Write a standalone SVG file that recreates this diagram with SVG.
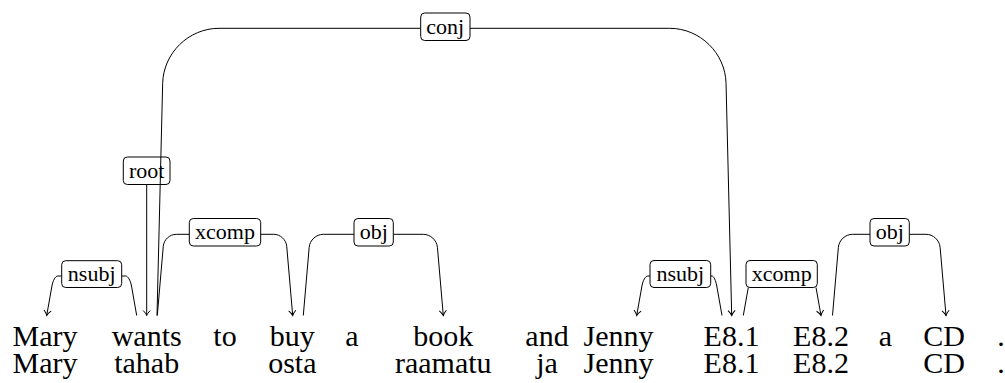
<svg xmlns="http://www.w3.org/2000/svg" width="1005" height="383" viewBox="0 0 1005 383">
  <style>
    .w { font-size: 30px; text-anchor: middle; fill: #000; }
    .lab { font-size: 22px; text-anchor: middle; fill: #000; }
    .box { fill: #fff; stroke: #000; stroke-width: 1; }
    .edge { fill: none; stroke: #000; stroke-width: 1; }
    .dep { marker-end: url(#to); }
  </style>
  <defs>
    <!-- open curved arrow tip, pointing along the path -->
    <marker id="to" viewBox="-8 -6 12 12" markerWidth="12" markerHeight="12" refX="0" refY="0" orient="auto" markerUnits="userSpaceOnUse" overflow="visible">
      <path d="M -5,-3.6 C -3,-1.5 -1,-0.4 0,0 C -1,0.4 -3,1.5 -5,3.6" fill="none" stroke="#000" stroke-width="1"/>
    </marker>
  </defs>

  <!-- sentence: English row above, Estonian row below -->
  <g id="words" font-family="Liberation Serif, DejaVu Serif, serif">
    <g id="w-mary"><text class="w" x="45" y="346">Mary</text><text class="w" x="45" y="373">Mary</text></g>
    <g id="w-wants"><text class="w" x="146.7" y="346">wants</text><text class="w" x="146.7" y="373">tahab</text></g>
    <g id="w-to"><text class="w" x="225" y="346">to</text></g>
    <g id="w-buy"><text class="w" x="292.3" y="346">buy</text><text class="w" x="292.3" y="373">osta</text></g>
    <g id="w-a1"><text class="w" x="352" y="346">a</text></g>
    <g id="w-book"><text class="w" x="443.3" y="346">book</text><text class="w" x="443.3" y="373">raamatu</text></g>
    <g id="w-and"><text class="w" x="547" y="346">and</text><text class="w" x="547" y="373">ja</text></g>
    <g id="w-jenny"><text class="w" x="618.5" y="346">Jenny</text><text class="w" x="618.5" y="373">Jenny</text></g>
    <g id="w-e81"><text class="w" x="731.5" y="346">E8.1</text><text class="w" x="731.5" y="373">E8.1</text></g>
    <g id="w-e82"><text class="w" x="821" y="346">E8.2</text><text class="w" x="821" y="373">E8.2</text></g>
    <g id="w-a2"><text class="w" x="885.5" y="346">a</text></g>
    <g id="w-cd"><text class="w" x="944" y="346">CD</text><text class="w" x="944" y="373">CD</text></g>
    <g id="w-dot"><text class="w" x="1001" y="346">.</text><text class="w" x="1001" y="373">.</text></g>
  </g>

  <!-- dependency edges with their labels -->
  <g id="connectors" font-family="Liberation Serif, DejaVu Serif, serif">
    <g id="e-root">
      <path class="edge dep" d="M 146.7 184.5 L 146.7 315.5"/>
      <rect class="box" x="123.3" y="157" width="46.7" height="27.5" rx="4"/>
      <text class="lab" x="146.7" y="177.5">root</text>
    </g>
    <g id="e-conj">
      <path class="edge" d="M 157 315.5 L 162.66 83.3 C 163.4 53.05 188.75 28.3 219 28.3 L 420.7 28.3"/>
      <path class="edge dep" d="M 470 28.3 L 669.7 28.3 C 699.95 28.3 725.3 53.05 726.04 83.3 L 731.7 315.5"/>
      <rect class="box" x="420.7" y="13" width="49.3" height="27.5" rx="4"/>
      <text class="lab" x="445.3" y="33.5">conj</text>
    </g>
    <g id="e-nsubj1">
      <path class="edge" d="M 136.7 315.5 L 131.5 286 C 130.5 280.5 127.9 276 125.7 276 L 121.7 276"/>
      <path class="edge dep" d="M 61.7 276 L 57.7 276 C 55.5 276 52.9 280.5 51.95 286 L 46.7 315.5"/>
      <rect class="box" x="61.7" y="260.7" width="60" height="26.8" rx="4"/>
      <text class="lab" x="91.7" y="281">nsubj</text>
    </g>
    <g id="e-xcomp1">
      <path class="edge" d="M 157.3 315.5 L 163.27 246.3 C 163.84 239.7 169.7 234.3 176.3 234.3 L 189.3 234.3"/>
      <path class="edge dep" d="M 260.7 234.3 L 273.7 234.3 C 280.3 234.3 286.16 239.7 286.73 246.3 L 292.7 315.5"/>
      <rect class="box" x="189.3" y="218.5" width="71.4" height="27.5" rx="4"/>
      <text class="lab" x="225" y="239">xcomp</text>
    </g>
    <g id="e-obj1">
      <path class="edge" d="M 303.3 315.5 L 309.18 247.3 C 309.8 240.15 316.15 234.3 323.3 234.3 L 354 234.3"/>
      <path class="edge dep" d="M 393.3 234.3 L 423.3 234.3 C 430.45 234.3 436.8 240.15 437.42 247.3 L 443.3 315.5"/>
      <rect class="box" x="354" y="218.5" width="39.3" height="27.5" rx="4"/>
      <text class="lab" x="373.7" y="239">obj</text>
    </g>
    <g id="e-nsubj2">
      <path class="edge" d="M 722 315.5 L 716.77 286 C 715.8 280.5 713.65 276 712 276 L 710.7 276"/>
      <path class="edge dep" d="M 650 276 L 647.7 276 C 645.5 276 642.9 280.5 641.93 286 L 636.7 315.5"/>
      <rect class="box" x="650" y="260.5" width="60.7" height="27" rx="4"/>
      <text class="lab" x="680.3" y="281">nsubj</text>
    </g>
    <g id="e-xcomp2">
      <path class="edge" d="M 743.3 315.5 L 748.3 287.5"/>
      <path class="edge dep" d="M 816 287.5 L 821 315.5"/>
      <rect class="box" x="746" y="260.5" width="71.3" height="27" rx="4"/>
      <text class="lab" x="781.7" y="281">xcomp</text>
    </g>
    <g id="e-obj2">
      <path class="edge" d="M 832.5 315.5 L 838.38 247.3 C 839 240.15 845.35 234.3 852.5 234.3 L 870 234.3"/>
      <path class="edge dep" d="M 909.3 234.3 L 926 234.3 C 933.15 234.3 939.5 240.15 940.12 247.3 L 946 315.5"/>
      <rect class="box" x="870" y="218.5" width="39.3" height="27.5" rx="4"/>
      <text class="lab" x="889.7" y="239">obj</text>
    </g>
  </g>
</svg>
